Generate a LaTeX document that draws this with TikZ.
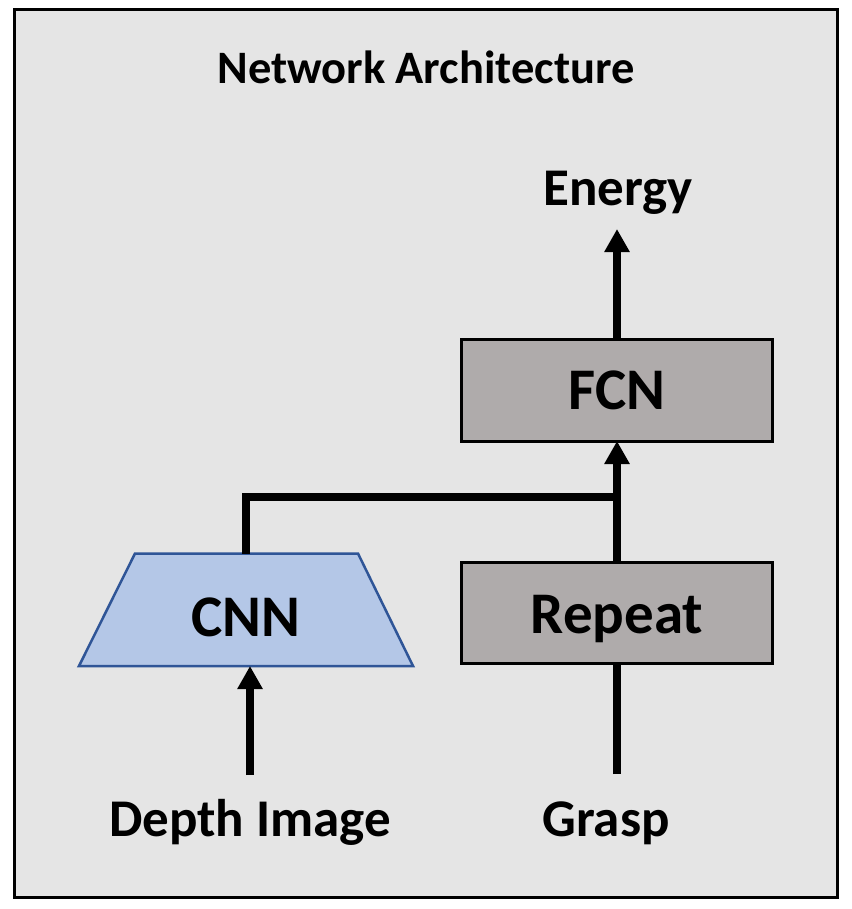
\documentclass[tikz,border=0pt]{standalone}
\usepackage{fontspec}
\setmainfont{Carlito}
\usetikzlibrary{arrows.meta}
\definecolor{bgc}{HTML}{E5E5E5}
\definecolor{boxc}{HTML}{AFABAB}
\definecolor{cnnfill}{HTML}{B4C7E7}
\definecolor{cnnline}{HTML}{2F5597}
\begin{document}
\begin{tikzpicture}[x=1pt,y=-1pt,
  conn/.style={line width=7.5pt,black},
  arr/.style={conn,-{Triangle[width=24pt,length=23pt]}},
  greybox/.style={draw=black,line width=3pt,fill=boxc},
  lbl/.style={anchor=base,inner sep=0pt,font=\bfseries\fontsize{53}{60}\selectfont},
  boxlbl/.style={anchor=base,inner sep=0pt,font=\bfseries\fontsize{59}{66}\selectfont}]
\useasboundingbox (0,0) rectangle (851,909);
\draw[line width=3pt,fill=bgc] (14.5,9.5) rectangle (837,897);
\node[lbl,font=\bfseries\fontsize{46.5}{54}\selectfont] (title) at (426,84) {Network Architecture};
% boxes
\draw[greybox] (461,339.5) rectangle (772,441);
\coordinate (fcnbot) at (617,441);
\coordinate (fcntop) at (617,339.5);
\draw[greybox] (461,562.5) rectangle (772,663.5);
\coordinate (reptop) at (617,562.5);
\coordinate (repbot) at (617,663.5);
\draw[line width=2.5pt,draw=cnnline,fill=cnnfill] (135,553.5) -- (358,553.5) -- (413,666) -- (79,666) -- cycle;
\coordinate (cnntop) at (246,553.5);
\coordinate (cnnbot) at (250,666);
\node[boxlbl] (fcn) at (617,409) {FCN};
\node[boxlbl] (rep) at (617,633) {Repeat};
\node[boxlbl] (cnn) at (246,636) {CNN};
\node[lbl] (energy) at (618,206) {Energy};
\node[lbl] (depth) at (250,836) {Depth Image};
\node[lbl] (grasp) at (606,836) {Grasp};
\coordinate (energyin) at (617,229);
\coordinate (depthout) at (250,775);
\coordinate (graspout) at (617,774);
\coordinate (joint) at (617,497);
% connectors
\draw[arr] (fcntop) -- (energyin);
\draw[arr] (depthout) -- (cnnbot);
\draw[conn] (graspout) -- (repbot);
\draw[arr] (reptop) -- (fcnbot);
\draw[conn] (cnntop) -- (246,497) -- (joint);
\end{tikzpicture}
\end{document}
